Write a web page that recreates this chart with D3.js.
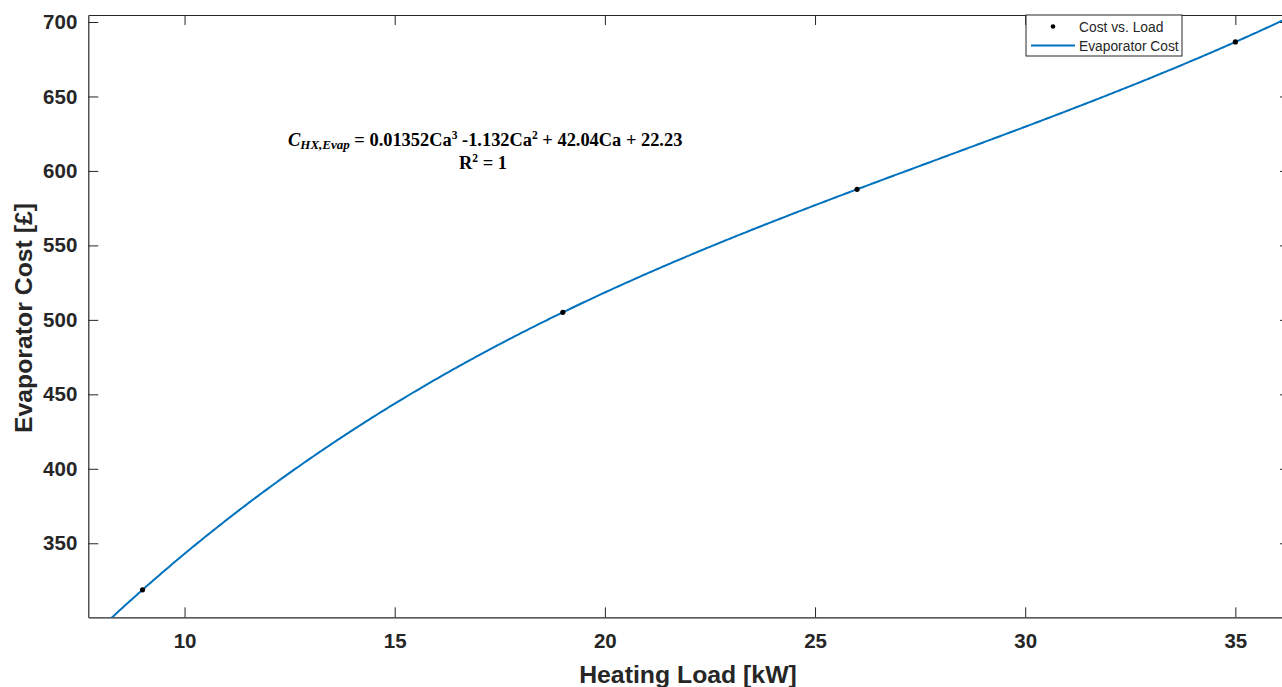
<!DOCTYPE html>
<html>
<head>
<meta charset="utf-8">
<script src="https://cdn.jsdelivr.net/npm/d3@7"></script>
<style>
  html, body { margin: 0; padding: 0; background: #fff; overflow: hidden; }
  svg { display: block; }
  .tick text { font-family: "Liberation Sans", Arial, sans-serif; font-weight: bold; font-size: 20.5px; fill: #262626; }
</style>
</head>
<body>
<script>
// Measured cost of the evaporator at each heating load
const loads = [9, 19, 26, 35];
const costs = [318.75, 505.07, 587.67, 686.6];

// Cubic fit: C = c3*Ca^3 + c2*Ca^2 + c1*Ca + c0
const fitCoefficients = [22.23, 42.04, -1.132, 0.01352];

const xTicks = [10, 15, 20, 25, 30, 35];
const yTicks = [350, 400, 450, 500, 550, 600, 650, 700];

const seriesNames = ["Cost vs. Load", "Evaporator Cost"];

const W = 1282, H = 687;
const plot = { left: 88.3, top: 15, right: 1290, bottom: 617.3 };

const svg = d3.select("body").append("svg").attr("width", W).attr("height", H);

const x = d3.scaleLinear().domain([7.71, 36.3]).range([plot.left, plot.right]);
const y = d3.scaleLinear().domain([300.3, 704.7]).range([plot.bottom, plot.top]);

const axisColor = "#262626";

svg.append("defs").append("clipPath").attr("id", "plotClip")
  .append("rect")
  .attr("x", plot.left).attr("y", plot.top)
  .attr("width", plot.right - plot.left).attr("height", plot.bottom - plot.top);

// Axes on all four sides, ticks pointing inward
const bottomAxis = d3.axisBottom(x).tickValues(xTicks).tickSizeInner(-10).tickSizeOuter(0).tickPadding(16).tickFormat(d3.format("d"));
const topAxis = d3.axisTop(x).tickValues(xTicks).tickSizeInner(-10).tickSizeOuter(0).tickFormat("");
const leftAxis = d3.axisLeft(y).tickValues(yTicks).tickSizeInner(-10).tickSizeOuter(0).tickPadding(11).tickFormat(d3.format("d"));
const rightAxis = d3.axisRight(y).tickValues(yTicks).tickSizeInner(-10).tickSizeOuter(0).tickFormat("");

function styleAxis(g) {
  g.select(".domain").attr("stroke", axisColor).attr("stroke-width", 1.2);
  g.selectAll(".tick line").attr("stroke", axisColor).attr("stroke-width", 1);
}

svg.append("g").attr("transform", `translate(0,${plot.bottom})`).call(bottomAxis).call(styleAxis);
svg.append("g").attr("transform", `translate(0,${plot.top})`).call(topAxis).call(styleAxis);
svg.append("g").attr("transform", `translate(${plot.left},0)`).call(leftAxis).call(styleAxis);
svg.append("g").attr("transform", `translate(${plot.right},0)`).call(rightAxis).call(styleAxis);

// Fitted curve evaluated from the stated coefficients
const poly = v => fitCoefficients.reduce((s, c, i) => s + c * Math.pow(v, i), 0);
const curveX = d3.range(7.5, 36.5, 0.05);
const line = d3.line().x(d => x(d)).y(d => y(poly(d)));

svg.append("path")
  .datum(curveX)
  .attr("clip-path", "url(#plotClip)")
  .attr("fill", "none")
  .attr("stroke", "#0072BD")
  .attr("stroke-width", 2)
  .attr("d", line);

// Measured points
svg.append("g").selectAll("circle")
  .data(loads.map((l, i) => [l, costs[i]]))
  .join("circle")
  .attr("cx", d => x(d[0]))
  .attr("cy", d => y(d[1]))
  .attr("r", 2.6)
  .attr("fill", "#000");

// Axis titles
svg.append("text")
  .attr("x", 688).attr("y", 683)
  .attr("text-anchor", "middle")
  .attr("font-family", "Liberation Sans, Arial, sans-serif")
  .attr("font-weight", "bold").attr("font-size", 24.8)
  .attr("fill", axisColor)
  .text("Heating Load [kW]");

svg.append("text")
  .attr("transform", `translate(32,318) rotate(-90)`)
  .attr("text-anchor", "middle")
  .attr("font-family", "Liberation Sans, Arial, sans-serif")
  .attr("font-weight", "bold").attr("font-size", 24.8)
  .attr("fill", axisColor)
  .text("Evaporator Cost [£]");

// Fit equation annotation
const eq = svg.append("text")
  .attr("x", 288).attr("y", 146)
  .attr("font-family", "Liberation Serif, Times New Roman, serif")
  .attr("font-weight", "bold").attr("font-size", 18.4)
  .attr("fill", "#000");
eq.append("tspan").attr("font-style", "italic").text("C");
eq.append("tspan").attr("font-style", "italic").attr("font-size", 13).attr("dy", 3).text("HX,Evap");
eq.append("tspan").attr("dy", -3).text(" = 0.01352Ca");
eq.append("tspan").attr("font-size", 11.5).attr("dy", -7).text("3");
eq.append("tspan").attr("dy", 7).text(" -1.132Ca");
eq.append("tspan").attr("font-size", 11.5).attr("dy", -7).text("2");
eq.append("tspan").attr("dy", 7).text(" + 42.04Ca + 22.23");

const r2 = svg.append("text")
  .attr("x", 483).attr("y", 169)
  .attr("text-anchor", "middle")
  .attr("font-family", "Liberation Serif, Times New Roman, serif")
  .attr("font-weight", "bold").attr("font-size", 18.4)
  .attr("fill", "#000");
r2.append("tspan").text("R");
r2.append("tspan").attr("font-size", 11.5).attr("dy", -7).text("2");
r2.append("tspan").attr("dy", 7).text(" = 1");

// Legend
const lg = svg.append("g").attr("transform", "translate(1026,15)");
lg.append("rect")
  .attr("width", 156).attr("height", 41)
  .attr("fill", "#fff").attr("stroke", "#262626").attr("stroke-width", 1);
const legendFont = "Liberation Sans, Arial, sans-serif";
lg.append("circle").attr("cx", 27).attr("cy", 11.5).attr("r", 2.3).attr("fill", "#000");
lg.append("text").attr("x", 53).attr("y", 16.5).attr("font-family", legendFont).attr("font-size", 13.8).attr("fill", "#262626").text(seriesNames[0]);
lg.append("line").attr("x1", 5).attr("x2", 49).attr("y1", 30.5).attr("y2", 30.5).attr("stroke", "#0072BD").attr("stroke-width", 2);
lg.append("text").attr("x", 53).attr("y", 35.5).attr("font-family", legendFont).attr("font-size", 13.8).attr("fill", "#262626").text(seriesNames[1]);
</script>
</body>
</html>
